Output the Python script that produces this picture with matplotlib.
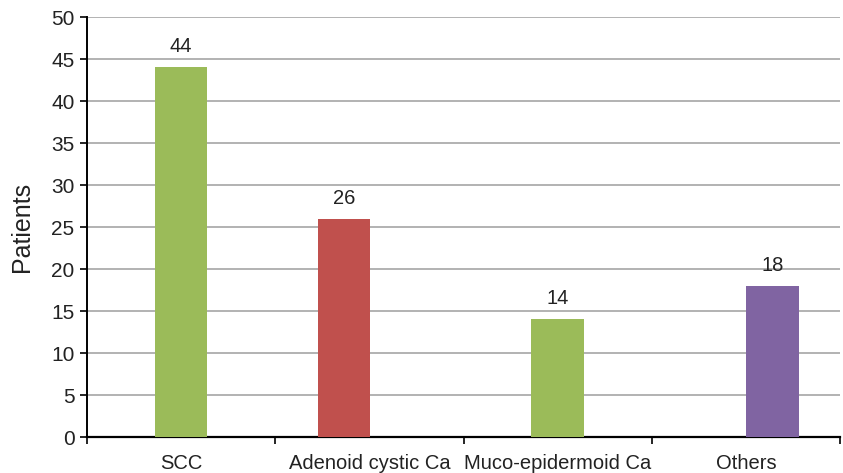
import matplotlib
matplotlib.use("Agg")
import matplotlib.pyplot as plt
import numpy as np

plt.rcParams['font.family'] = ['Liberation Sans', 'DejaVu Sans']

categories = ["SCC", "Adenoid cystic Ca", "Muco-epidermoid Ca", "Others"]
values = [44, 26, 14, 18]
colors = ["#9BBB59", "#C0504D", "#9BBB59", "#8064A2"]
offsets = [0.0, -0.135, 0.0, 0.14]
yticks = list(range(0, 51, 5))

fig = plt.figure(figsize=(8.43, 4.73), dpi=100)
ax = fig.add_axes([87/843, 36/473, 753/843, 420/473])

x = np.arange(len(categories))
bw = 0.28
for xi, v, c, o in zip(x, values, colors, offsets):
    ax.bar(xi + o, v, width=bw, color=c, zorder=3)
    ax.text(xi + o, v + 1.3, str(v), ha='center', va='bottom', fontsize=14.5, color='#222222')

ax.set_xlim(-0.5, len(categories) - 0.5)
ax.set_ylim(0, 50)
ax.set_yticks(yticks)
ax.yaxis.grid(True, color='#A6A6A6', linewidth=1.2, zorder=0)
ax.set_axisbelow(True)

ax.set_xticks(x)
ax.set_xticklabels(categories, fontsize=14.5)
ax.tick_params(axis='x', length=0, pad=12)
ax.set_xticks(np.arange(-0.5, len(categories)), minor=True)
ax.tick_params(axis='x', which='minor', length=5, width=1.2, direction='out')
ax.tick_params(axis='y', length=5, width=1.2, labelsize=15, direction='out', pad=4, labelcolor='#222222')
ax.tick_params(axis='x', labelcolor='#222222')

for s in ['top', 'right']:
    ax.spines[s].set_visible(False)
ax.spines['left'].set_linewidth(1.4)
ax.spines['bottom'].set_linewidth(1.6)
ax.set_ylabel("Patients", fontsize=18, labelpad=12, color='#222222')

fig.savefig("out.png", dpi=100)
